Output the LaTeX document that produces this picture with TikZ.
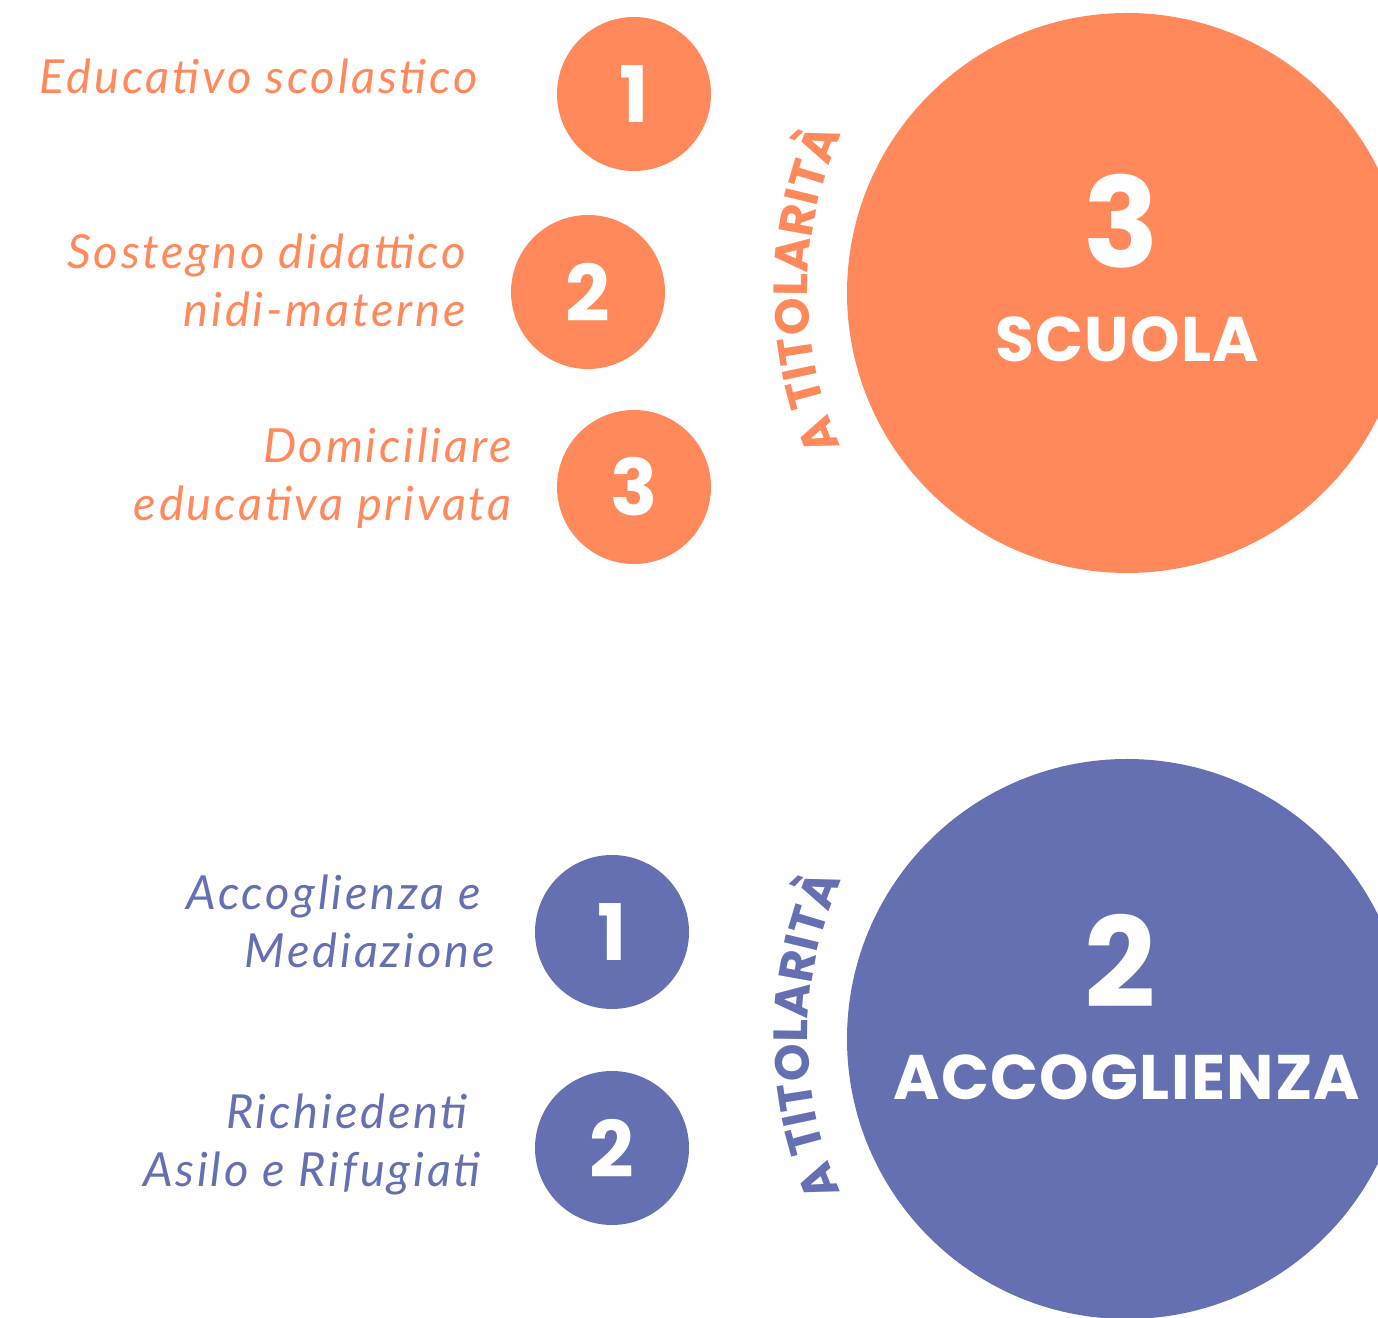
\documentclass[tikz,border=0pt]{standalone}
\usepackage{fontspec}
\setmainfont{Lato}
\newfontfamily\headfont{Poppins}
\newfontfamily\wordfont{Poppins}[LetterSpace=2]
\newfontfamily\lblfont{Lato}[LetterSpace=6]
\usetikzlibrary{calc,decorations.text}
\definecolor{scuolaorange}{RGB}{255,137,91}
\definecolor{accoglblue}{RGB}{101,112,178}

\tikzset{
  bigdot/.style={circle, fill=#1, inner sep=0pt, minimum size=560pt},
  numdot/.style={circle, fill=#1, inner sep=0pt, minimum size=154pt, text=white,
    font=\headfont\bfseries\fontsize{78}{78}\selectfont},
  lbl/.style={anchor=east, align=right, text=#1, inner sep=0pt,
    font=\lblfont\fontsize{47}{58}\selectfont\itshape},
  bignum/.style={text=white, inner sep=0pt, font=\headfont\bfseries\fontsize{125}{125}\selectfont},
  bigword/.style={text=white, inner sep=0pt, font=\wordfont\bfseries\fontsize{63}{63}\selectfont},
  titolarita/.style={decorate, decoration={text along path, text align=center,
    text={|\headfont\bfseries\fontsize{48}{48}\selectfont\color{#1}|A TITOLARITÀ}}}
}

\begin{document}
\begin{tikzpicture}[x=1pt,y=1pt]
\useasboundingbox (0,0) rectangle (1378,1317);
\clip (0,0) rectangle (1378,1317);

% scuola
\node[bigdot=scuolaorange] (scuola) at (1127,1024) {};
\node[bignum] (scuolanum) at (1121,1096) {3};
\node[bigword] (scuolaword) at (1127,978) {SCUOLA};
\path[titolarita=scuolaorange] ($(scuola)+(64,3)+(205:383)$) arc (205:155:383);

\node[numdot=scuolaorange] (s1) at (634,1223) {1};
\node[numdot=scuolaorange] (s2) at (588,1025) {2};
\node[numdot=scuolaorange] (s3) at (634,830) {3};

\node[lbl=scuolaorange] (s1lbl) at (478,1241) {Educativo scolastico};
\node[lbl=scuolaorange] (s2lbl) at (466,1037) {Sostegno didattico\\nidi-materne};
\node[lbl=scuolaorange] (s3lbl) at (512,839) {Domiciliare\\educativa privata};

% accoglienza
\node[bigdot=accoglblue] (accoglienza) at (1127,278) {};
\node[bignum] (accoglnum) at (1120,356) {2};
\node[bigword] (accoglword) at (1127,240) {ACCOGLIENZA};
\path[titolarita=accoglblue] ($(accoglienza)+(64,3)+(205:383)$) arc (205:155:383);

\node[numdot=accoglblue] (a1) at (612,385) {1};
\node[numdot=accoglblue] (a2) at (612,169) {2};

\node[lbl=accoglblue] (a1lbl) at (495,396) {Accoglienza e\hspace*{14pt}\\Mediazione};
\node[lbl=accoglblue] (a2lbl) at (481,173) {Richiedenti\hspace*{13pt}\\Asilo e Rifugiati};
\end{tikzpicture}
\end{document}
